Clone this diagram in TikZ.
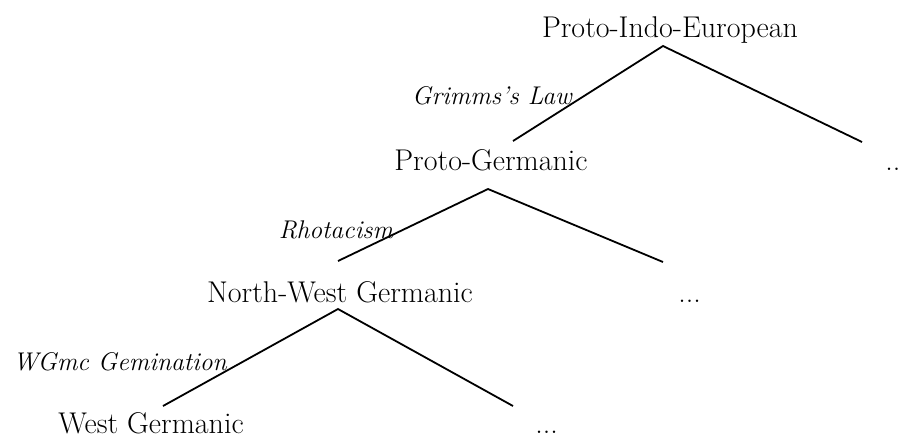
\documentclass[tikz,border=0pt]{standalone}
\usepackage{xcolor}

\begin{document}
\begin{tikzpicture}[x=0.5pt, y=-0.5pt,
    lang/.style={anchor=base, inner sep=0pt, font=\fontsize{15}{18}\selectfont},
    more/.style={lang, anchor=base west},
    change/.style={anchor=base, inner sep=0pt, font=\fontsize{12.8}{15}\selectfont\itshape},
    branch/.style={line width=0.9pt}]
  \useasboundingbox (0,0) rectangle (898,436);
  % Languages, one row per level of the tree (pixel grid of the source figure).
  \node[lang] (pie)  at (670,37)  {Proto-Indo-European};
  \node[lang] (pg)   at (491,170) {Proto-Germanic};
  \node[more] (pg-sis) at (885,170) {...};
  \node[lang] (nwg)  at (340,302) {North-West Germanic};
  \node[more] (nwg-sis) at (678,302) {...};
  \node[lang] (wg)   at (151,433) {West Germanic};
  \node[more] (wg-sis) at (535,433) {...};
  % Sound changes, written beside the left branch they label.
  \node[change] (grimm) at (492,104) {Grimms's Law};
  \node[change] (rhot)  at (336,238) {Rhotacism};
  \node[change] (gem)   at (120,370) {WGmc Gemination};
  % Fork points under each mother and branch ends above each daughter.
  \coordinate (pie-fork) at (663,46);
  \coordinate (pg-top)   at (513,141);
  \coordinate (pg-sis-top) at (862,142);
  \coordinate (pg-fork)  at (488,189);
  \coordinate (nwg-top)  at (338,261);
  \coordinate (nwg-sis-top) at (663,262);
  \coordinate (nwg-fork) at (338,309);
  \coordinate (wg-top)   at (163,406);
  \coordinate (wg-sis-top) at (513,406);
  \foreach \m/\d in {pie/pg, pg/nwg, nwg/wg} {
    \draw[branch] (\d-top) -- (\m-fork) -- (\d-sis-top);
  }
\end{tikzpicture}
\end{document}
